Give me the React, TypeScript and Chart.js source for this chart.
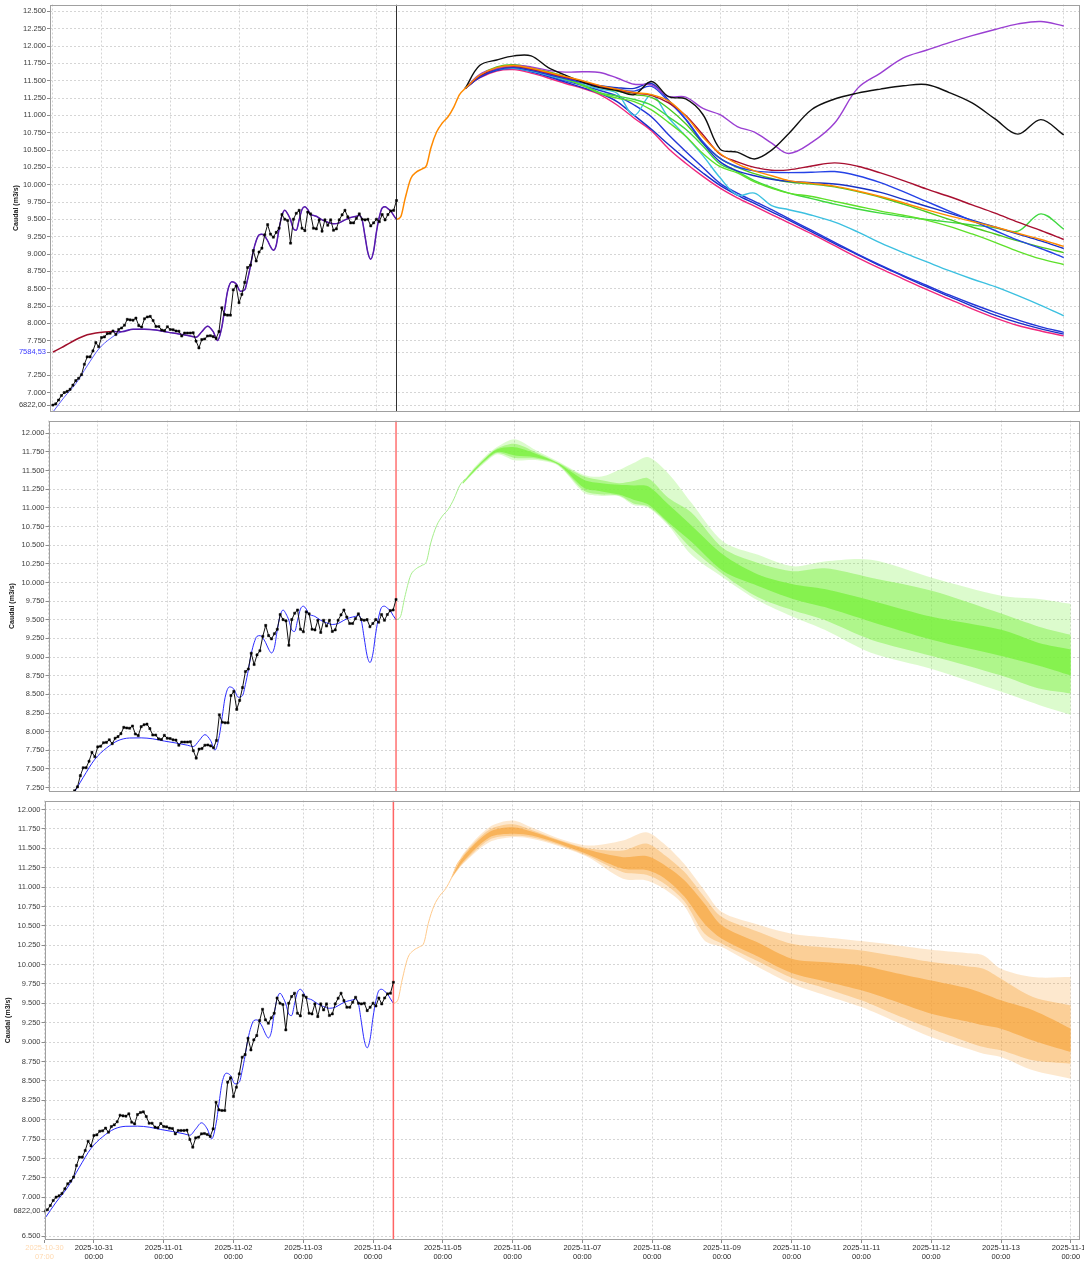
import React, { useEffect, useRef } from "react";
import { Chart, registerables } from "chart.js";

Chart.register(...registerables);

const FONT = "'Liberation Sans', Arial, sans-serif";
Chart.defaults.font.family = FONT;

// ---- time axis: hours since 2025-10-30 07:00 ----
const DAY_TICK_HOURS = [0, 17, 41, 65, 89, 113, 137, 161, 185, 209, 233, 257, 281, 305, 329, 353];
const DAY_TICK_LABELS = [
  ["2025-10-30", "07:00"], ["2025-10-31", "00:00"], ["2025-11-01", "00:00"], ["2025-11-02", "00:00"],
  ["2025-11-03", "00:00"], ["2025-11-04", "00:00"], ["2025-11-05", "00:00"], ["2025-11-06", "00:00"],
  ["2025-11-07", "00:00"], ["2025-11-08", "00:00"], ["2025-11-09", "00:00"], ["2025-11-10", "00:00"],
  ["2025-11-11", "00:00"], ["2025-11-12", "00:00"], ["2025-11-13", "00:00"], ["2025-11-14", "00:00"],
];
const NOW_HOUR = 120;

// ---- y tick labels ----
const P1_Y_TICKS = [6822, 7000, 7250, 7584.53, 7750, 8000, 8250, 8500, 8750, 9000, 9250, 9500, 9750, 10000, 10250, 10500, 10750, 11000, 11250, 11500, 11750, 12000, 12250, 12500];
const P2_Y_TICKS = [7250, 7500, 7750, 8000, 8250, 8500, 8750, 9000, 9250, 9500, 9750, 10000, 10250, 10500, 10750, 11000, 11250, 11500, 11750, 12000];
const P3_Y_TICKS = [6500, 6822, 7000, 7250, 7500, 7750, 8000, 8250, 8500, 8750, 9000, 9250, 9500, 9750, 10000, 10250, 10500, 10750, 11000, 11250, 11500, 11750, 12000];
const SPECIAL_TICKS = [6822, 7584.53];

// ---- observed flow (hourly from hour 0) ----
const OBS_VALUES = [
  6822, 6839, 6894, 6959, 7002, 7019, 7049, 7109, 7174, 7208,
  7260, 7410, 7517, 7517, 7603, 7723, 7663, 7796, 7805, 7852,
  7857, 7891, 7839, 7912, 7934, 7973, 8058, 8050, 8046, 8076,
  7968, 7947, 8067, 8093, 8101, 8041, 7955, 7955, 7904, 7895,
  7951, 7912, 7908, 7891, 7887, 7818, 7861, 7861, 7861, 7865,
  7745, 7646, 7766, 7775, 7818, 7822, 7809, 7784, 7882, 8226,
  8127, 8119, 8119, 8484, 8540, 8299, 8419, 8591, 8806, 8840,
  9051, 8900, 9029, 9085, 9278, 9424, 9287, 9244, 9313, 9373,
  9570, 9502, 9485, 9158, 9502, 9588, 9631, 9373, 9339, 9605,
  9579, 9373, 9364, 9493, 9330, 9493, 9416, 9493, 9343, 9364,
  9493, 9566, 9631, 9536, 9450, 9450, 9515, 9579, 9502, 9493,
  9502, 9407, 9450, 9502, 9467, 9570, 9493, 9570, 9622, 9631,
  9772,
];

// ---- simulated flow ----
const SIM_HOURS = [0, 4, 8, 12, 16, 20, 24, 28, 32, 36, 40, 44, 48, 50, 52, 54, 56, 57.5, 59, 60, 61, 62.5, 64, 65.5, 67, 68, 69, 70, 71, 72, 73, 74, 75, 76, 77, 78, 79, 80, 81, 82, 83, 84, 85, 86, 87, 88, 89, 90, 91, 92, 94, 96, 98, 100, 102, 104, 106, 107, 108, 109, 110, 111, 112, 113, 114, 115, 116, 117, 118, 119, 120];
const SIM_VALUES = [6720, 6937, 7131, 7388, 7630, 7780, 7880, 7915, 7917, 7904, 7874, 7848, 7818, 7800, 7880, 7960, 7880, 7753, 7947, 8204, 8462, 8600, 8570, 8462, 8484, 8634, 8827, 9042, 9192, 9278, 9287, 9257, 9192, 9107, 9055, 9128, 9364, 9558, 9631, 9579, 9493, 9364, 9343, 9493, 9643, 9682, 9643, 9570, 9558, 9545, 9493, 9459, 9437, 9450, 9493, 9527, 9545, 9558, 9493, 9257, 9021, 8927, 9042, 9321, 9536, 9665, 9682, 9656, 9622, 9558, 9500];

// ---- assimilated start (top panel) ----
const ASSIM_HOURS = [0, 3, 6, 9, 12, 15, 18, 21, 24];
const ASSIM_VALUES = [7584.53, 7650, 7720, 7785, 7835, 7862, 7876, 7882, 7880];

// ---- common forecast start ----
const FC_HOURS = [120, 121.5, 123, 125, 127, 129, 130.5, 132, 134, 136, 138, 140, 142, 144];
const FC_VALUES = [9500, 9540, 9800, 10090, 10185, 10230, 10280, 10530, 10760, 10890, 10980, 11120, 11300, 11390];

// ---- ensemble members (top panel) ----
const ENS_HOURS = [144, 149, 155, 161, 167, 173, 179, 185, 191, 197, 203, 209, 215, 221, 227, 233, 239, 245, 251, 257, 265, 273, 281, 289, 297, 305, 313, 321, 329, 337, 345, 353];
const ENS_PINK = [11390, 11540, 11640, 11660, 11610, 11540, 11460, 11390, 11300, 11150, 10960, 10780, 10520, 10310, 10120, 9950, 9810, 9690, 9570, 9450, 9290, 9120, 8950, 8790, 8640, 8490, 8350, 8210, 8080, 7970, 7890, 7820];
const ENS_BLUE_LOW2 = [11390, 11550, 11650, 11680, 11630, 11560, 11480, 11400, 11320, 11200, 11000, 10800, 10580, 10370, 10170, 9990, 9850, 9730, 9610, 9490, 9320, 9150, 8990, 8830, 8680, 8530, 8390, 8250, 8120, 8010, 7920, 7845];
const ENS_BLUE_LOW1 = [11390, 11560, 11660, 11690, 11640, 11570, 11500, 11430, 11360, 11280, 11150, 10980, 10720, 10480, 10250, 10020, 9880, 9760, 9640, 9510, 9340, 9170, 9000, 8840, 8690, 8550, 8410, 8280, 8160, 8050, 7950, 7870];
const ENS_CYAN = [11390, 11560, 11660, 11680, 11640, 11580, 11510, 11450, 11380, 11320, 11000, 11300, 10966, 10700, 10420, 10100, 9850, 9880, 9700, 9640, 9560, 9460, 9320, 9160, 9020, 8890, 8760, 8640, 8530, 8400, 8260, 8110];
const ENS_GREEN_C = [11390, 11560, 11680, 11710, 11670, 11600, 11520, 11440, 11330, 11280, 11230, 11150, 10980, 10800, 10560, 10300, 10190, 10060, 9960, 9880, 9800, 9720, 9650, 9590, 9540, 9500, 9460, 9420, 9380, 9330, 9580, 9360];
const ENS_GREEN_B = [11390, 11570, 11690, 11720, 11680, 11610, 11530, 11430, 11320, 11250, 11200, 11080, 10900, 10700, 10450, 10260, 10170, 10040, 9950, 9880, 9830, 9760, 9690, 9620, 9560, 9490, 9400, 9290, 9170, 9040, 8930, 8850];
const ENS_GREEN_A = [11390, 11580, 11700, 11730, 11690, 11630, 11560, 11480, 11410, 11350, 11300, 11260, 11100, 10880, 10600, 10380, 10250, 10160, 10090, 10040, 10010, 9970, 9900, 9820, 9720, 9610, 9500, 9390, 9290, 9190, 9100, 9020];
const ENS_BLUE_B = [11390, 11550, 11660, 11690, 11650, 11590, 11530, 11470, 11430, 11400, 11390, 11460, 11220, 10940, 10600, 10330, 10200, 10130, 10080, 10050, 10030, 10010, 9960, 9890, 9790, 9690, 9590, 9490, 9390, 9290, 9190, 9080];
const ENS_BLUE_A = [11390, 11560, 11670, 11700, 11660, 11600, 11540, 11480, 11420, 11380, 11350, 11420, 11200, 10950, 10620, 10380, 10260, 10200, 10180, 10175, 10180, 10190, 10130, 10030, 9900, 9760, 9620, 9480, 9340, 9200, 9080, 8950];
const ENS_DARKRED = [11390, 11570, 11680, 11710, 11670, 11610, 11550, 11490, 11420, 11370, 11320, 11290, 11180, 11000, 10720, 10440, 10330, 10250, 10210, 10215, 10270, 10315, 10267, 10170, 10060, 9940, 9830, 9710, 9590, 9460, 9340, 9210];
const ENS_PURPLE = [11390, 11590, 11680, 11720, 11700, 11650, 11625, 11630, 11620, 11540, 11450, 11440, 11275, 11265, 11100, 11010, 10840, 10760, 10600, 10450, 10610, 10890, 11390, 11610, 11830, 11940, 12050, 12150, 12240, 12320, 12355, 12290];
const ENS_BLACK = [11390, 11720, 11800, 11859, 11859, 11690, 11580, 11480, 11400, 11360, 11300, 11490, 11270, 11237, 11013, 10514, 10470, 10372, 10500, 10740, 11085, 11237, 11322, 11380, 11427, 11446, 11330, 11180, 10950, 10730, 10940, 10720];
const ENS_ORANGE = [11390, 11580, 11690, 11720, 11680, 11620, 11560, 11500, 11430, 11380, 11330, 11300, 11210, 10990, 10690, 10450, 10300, 10200, 10130, 10060, 10020, 9980, 9910, 9830, 9740, 9640, 9550, 9470, 9390, 9300, 9210, 9110];

// ---- green percentile fan (middle panel) ----
const GFAN_HOURS = [143, 147, 151, 155, 161, 168, 176, 185, 191, 197, 202, 207, 214, 222, 233, 245, 257, 268, 284, 305, 329, 342, 353];
const GFAN_MAX = [11345, 11540, 11700, 11820, 11921, 11780, 11620, 11441, 11420, 11506, 11600, 11681, 11462, 11069, 10545, 10370, 10217, 10282, 10304, 10064, 9823, 9780, 9714];
const GFAN_P90 = [11340, 11525, 11680, 11800, 11860, 11750, 11605, 11420, 11370, 11331, 11360, 11397, 11135, 10938, 10457, 10260, 10151, 10190, 10064, 9889, 9583, 9408, 9299];
const GFAN_P75 = [11335, 11515, 11670, 11785, 11812, 11730, 11598, 11375, 11330, 11309, 11300, 11288, 11047, 10763, 10370, 10107, 9976, 9911, 9758, 9539, 9365, 9190, 9102];
const GFAN_P25 = [11325, 11495, 11645, 11750, 11703, 11680, 11585, 11266, 11220, 11178, 11110, 11047, 10807, 10545, 10151, 9954, 9780, 9670, 9474, 9233, 9015, 8884, 8753];
const GFAN_P10 = [11320, 11485, 11630, 11735, 11670, 11660, 11575, 11230, 11180, 11165, 11060, 11020, 10785, 10457, 10107, 9801, 9627, 9496, 9233, 9015, 8753, 8578, 8512];
const GFAN_MIN = [11315, 11475, 11615, 11720, 11637, 11640, 11565, 11200, 11160, 11157, 11040, 11004, 10763, 10370, 10064, 9757, 9540, 9365, 9058, 8840, 8534, 8359, 8228];

// ---- orange percentile fan (bottom panel) ----
const OFAN_HOURS = [140, 144, 153, 161, 168, 176, 187, 199, 207, 213, 220, 227, 233, 245, 257, 269, 281, 293, 305, 317, 323, 329, 340, 353];
const OFAN_MAX = [11130, 11429, 11772, 11858, 11760, 11640, 11536, 11600, 11707, 11560, 11300, 10956, 10677, 10520, 10398, 10350, 10303, 10250, 10192, 10150, 10119, 9947, 9839, 9839];
const OFAN_P90 = [11127, 11410, 11740, 11810, 11730, 11620, 11500, 11472, 11560, 11420, 11200, 10870, 10613, 10430, 10269, 10220, 10183, 10110, 10033, 9980, 9947, 9818, 9582, 9474];
const OFAN_P75 = [11124, 11390, 11710, 11772, 11710, 11610, 11480, 11385, 11400, 11290, 11090, 10785, 10505, 10290, 10076, 10030, 9990, 9890, 9796, 9700, 9625, 9539, 9410, 9174];
const OFAN_P25 = [11118, 11330, 11640, 11686, 11660, 11570, 11420, 11235, 11220, 11120, 10880, 10527, 10333, 10110, 9891, 9780, 9668, 9520, 9367, 9270, 9217, 9174, 9023, 8873];
const OFAN_P10 = [11115, 11310, 11610, 11660, 11640, 11555, 11400, 11192, 11160, 11050, 10820, 10400, 10269, 10050, 9831, 9690, 9539, 9350, 9174, 9010, 8938, 8895, 8766, 8723];
const OFAN_MIN = [11110, 11300, 11579, 11643, 11620, 11540, 11385, 11107, 11085, 10980, 10760, 10312, 10226, 9980, 9753, 9600, 9453, 9260, 9066, 8920, 8852, 8809, 8637, 8529];

// ---- helpers ----
const xy = (hs: number[], vs: number[]) => hs.map((h, i) => ({ x: h, y: vs[i] }));
const obsPoints = () => OBS_VALUES.map((v, i) => ({ x: i, y: v }));

function fmtTick(v: number) {
  if (SPECIAL_TICKS.includes(v)) return v.toFixed(2).replace(".", ",");
  return String(Math.round(v)).replace(/\B(?=(\d{3})+(?!\d))/g, ".");
}

const GRID_COLOR = "#d5d5d5";

function yScale(min: number, max: number, ticks: number[], width: number, titlePad: number) {
  return {
    type: "linear",
    position: "left",
    min,
    max,
    afterBuildTicks: (s: any) => {
      s.ticks = ticks.map((v) => ({ value: v }));
    },
    afterFit: (s: any) => {
      s.width = width;
      s.paddingTop = 0;
      s.paddingBottom = 0;
    },
    ticks: {
      autoSkip: false,
      padding: 1,
      font: { family: FONT, size: 7.5 },
      color: (ctx: any) => (ctx.tick && ctx.tick.value === 7584.53 ? "#3a3aff" : "#3c3c3c"),
      callback: (v: any) => fmtTick(Number(v)),
    },
    grid: { color: GRID_COLOR, tickLength: 3, tickColor: "#8c8c8c", drawTicks: true },
    border: { display: false, dash: [2, 2] },
    title: {
      display: true,
      text: "Caudal (m3/s)",
      color: "#202020",
      font: { family: FONT, size: 7, weight: "bold" },
      padding: { top: titlePad, bottom: 0 },
    },
  };
}

function xScale(min: number, max: number, showLabels: boolean, height: number) {
  return {
    type: "linear",
    position: "bottom",
    min,
    max,
    afterBuildTicks: (s: any) => {
      s.ticks = DAY_TICK_HOURS.map((v) => ({ value: v }));
    },
    afterFit: (s: any) => {
      s.height = height;
      s.paddingLeft = 0;
      s.paddingRight = 0;
    },
    ticks: {
      display: showLabels,
      autoSkip: false,
      maxRotation: 0,
      minRotation: 0,
      padding: 0,
      font: { family: FONT, size: 7.5, lineHeight: 1.2 },
      color: (ctx: any) => (ctx.index === 0 ? "#ffd9b0" : "#2a2a2a"),
      callback: (_v: any, i: number) => DAY_TICK_LABELS[i],
    },
    grid: { color: GRID_COLOR, drawTicks: showLabels, tickLength: 3, tickColor: "#8c8c8c" },
    border: { display: false, dash: [2, 2] },
  };
}

const framePlugin = {
  id: "frame",
  afterDraw(chart: any) {
    const { ctx, chartArea: a } = chart;
    ctx.save();
    ctx.strokeStyle = "#a0a0a0";
    ctx.lineWidth = 1;
    ctx.setLineDash([]);
    const l = Math.round(a.left) + 0.5;
    const t = Math.round(a.top) + 0.5;
    const r = Math.round(a.right) - 0.5;
    const b = Math.round(a.bottom) - 0.5;
    ctx.strokeRect(l, t, r - l, b - t);
    ctx.restore();
  },
};

function lineDs(data: any[], color: string, width: number, order: number, extra: any = {}) {
  return {
    data,
    borderColor: color,
    backgroundColor: color,
    borderWidth: width,
    pointRadius: 0,
    fill: false,
    order,
    tension: 0,
    ...extra,
  };
}

function obsDs(order: number) {
  return lineDs(obsPoints(), "#111111", 1, order, {
    pointRadius: 1.5,
    pointStyle: "rect",
    pointBackgroundColor: "#000000",
    pointBorderColor: "#000000",
    pointBorderWidth: 0.5,
  });
}

function simDs(color: string, order: number) {
  return lineDs(xy(SIM_HOURS, SIM_VALUES), color, 1, order, { cubicInterpolationMode: "monotone" });
}

function nowDs(color: string, width: number, yMin: number, yMax: number, order: number) {
  return lineDs([{ x: NOW_HOUR, y: yMin }, { x: NOW_HOUR, y: yMax }], color, width, order);
}

function bandDs(hours: number[], hi: number[], lo: number[], color: string, order: number) {
  return [
    { data: xy(hours, hi), borderColor: "rgba(0,0,0,0)", borderWidth: 0, pointRadius: 0, fill: false, order, tension: 0.3 },
    { data: xy(hours, lo), borderColor: "rgba(0,0,0,0)", borderWidth: 0, pointRadius: 0, fill: "-1", backgroundColor: color, order, tension: 0.3 },
  ];
}

function baseOptions(xs: any, ys: any, padding: any) {
  return {
    responsive: false,
    animation: false,
    devicePixelRatio: 1,
    layout: { padding },
    events: [],
    plugins: { legend: { display: false }, tooltip: { enabled: false } },
    scales: { x: xs, y: ys },
  };
}

// ---- panel configs ----
const P1 = { xMin: -1, xMax: 358.5, yMin: 6729, yMax: 12600 };
const P2 = { xMin: 0, xMax: 356, yMin: 7198, yMax: 12171 };
const P3 = { xMin: 0, xMax: 356, yMin: 6449, yMax: 12116 };

function buildTop(): any {
  const assim = [
    ...xy(ASSIM_HOURS, ASSIM_VALUES),
    ...xy(SIM_HOURS, SIM_VALUES).filter((p) => p.x > ASSIM_HOURS[ASSIM_HOURS.length - 1]),
  ];
  const members: [number[], string, number][] = [
    [ENS_ORANGE, "#ff8a00", 4],
    [ENS_BLACK, "#101010", 5],
    [ENS_PURPLE, "#9a3fd2", 5],
    [ENS_DARKRED, "#a80f30", 6],
    [ENS_BLUE_A, "#2542e6", 6],
    [ENS_BLUE_B, "#1a32c4", 6],
    [ENS_GREEN_A, "#4cc81e", 6],
    [ENS_GREEN_B, "#5ee02a", 6],
    [ENS_GREEN_C, "#3fd83f", 6],
    [ENS_CYAN, "#3cc0e0", 6],
    [ENS_BLUE_LOW1, "#2438d8", 6],
    [ENS_BLUE_LOW2, "#1a2ec8", 6],
    [ENS_PINK, "#f0287c", 6],
  ];
  const datasets: any[] = [
    obsDs(0),
    nowDs("#303030", 1, P1.yMin, P1.yMax, 1),
    lineDs(assim, "#5a1aa8", 1.5, 2, {
      cubicInterpolationMode: "monotone",
      segment: {
        borderColor: (c: any) => (c.p0.parsed.x < 21 ? "#a0102c" : "#5a1aa8"),
      },
    }),
    simDs("#5a5aff", 3),
    lineDs(xy(FC_HOURS, FC_VALUES), "#ff8a00", 1.5, 4, { cubicInterpolationMode: "monotone" }),
    ...members.map(([vals, color, order]) =>
      lineDs(xy(ENS_HOURS, vals), color, 1.4, order, { tension: 0.35 })
    ),
  ];
  return {
    type: "line",
    data: { datasets },
    options: baseOptions(
      xScale(P1.xMin, P1.xMax, false, 0),
      yScale(P1.yMin, P1.yMax, P1_Y_TICKS, 50, 11.8),
      { top: 3, right: 3, bottom: 1, left: 0 }
    ),
    plugins: [framePlugin],
  };
}

function buildMiddle(): any {
  const datasets: any[] = [
    obsDs(0),
    nowDs("#ff2a2a", 1, P2.yMin, P2.yMax, 1),
    simDs("#2a2aff", 2),
    lineDs(xy(FC_HOURS, FC_VALUES), "#a6ee8c", 1, 3, { cubicInterpolationMode: "monotone" }),
    ...bandDs(GFAN_HOURS, GFAN_P75, GFAN_P25, "rgba(120,240,60,0.75)", 10),
    ...bandDs(GFAN_HOURS, GFAN_P90, GFAN_P10, "rgba(120,240,60,0.45)", 11),
    ...bandDs(GFAN_HOURS, GFAN_MAX, GFAN_MIN, "rgba(120,240,60,0.26)", 12),
  ];
  return {
    type: "line",
    data: { datasets },
    options: baseOptions(
      xScale(P2.xMin, P2.xMax, false, 0),
      yScale(P2.yMin, P2.yMax, P2_Y_TICKS, 48.5, 7.8),
      { top: 1, right: 3, bottom: 0, left: 0 }
    ),
    plugins: [framePlugin],
  };
}

function buildBottom(): any {
  const datasets: any[] = [
    obsDs(0),
    nowDs("#ff6464", 1.5, P3.yMin, P3.yMax, 1),
    simDs("#2a2aff", 2),
    lineDs(xy(FC_HOURS, FC_VALUES), "#ffc98a", 1, 3, { cubicInterpolationMode: "monotone" }),
    ...bandDs(OFAN_HOURS, OFAN_P75, OFAN_P25, "rgba(247,160,50,0.6)", 10),
    ...bandDs(OFAN_HOURS, OFAN_P90, OFAN_P10, "rgba(247,160,50,0.35)", 11),
    ...bandDs(OFAN_HOURS, OFAN_MAX, OFAN_MIN, "rgba(247,160,50,0.24)", 12),
  ];
  return {
    type: "line",
    data: { datasets },
    options: baseOptions(
      xScale(P3.xMin, P3.xMax, true, 23),
      yScale(P3.yMin, P3.yMax, P3_Y_TICKS, 44.5, 3.8),
      { top: 4, right: 3, bottom: 0, left: 0 }
    ),
    plugins: [framePlugin],
  };
}

function Panel({ top, height, build }: { top: number; height: number; build: () => any }) {
  const ref = useRef<HTMLCanvasElement | null>(null);
  useEffect(() => {
    if (!ref.current) return;
    const chart = new Chart(ref.current, build());
    return () => chart.destroy();
  }, []);
  return (
    <canvas
      ref={ref}
      width={1084}
      height={height}
      style={{ position: "absolute", left: 0, top, width: 1084, height, display: "block" }}
    />
  );
}

export default function App() {
  return (
    <div style={{ position: "absolute", left: 0, top: 0, width: 1084, height: 1263, background: "#ffffff", overflow: "hidden" }}>
      <Panel top={0} height={416} build={buildTop} />
      <Panel top={416} height={380} build={buildMiddle} />
      <Panel top={796} height={467} build={buildBottom} />
    </div>
  );
}
